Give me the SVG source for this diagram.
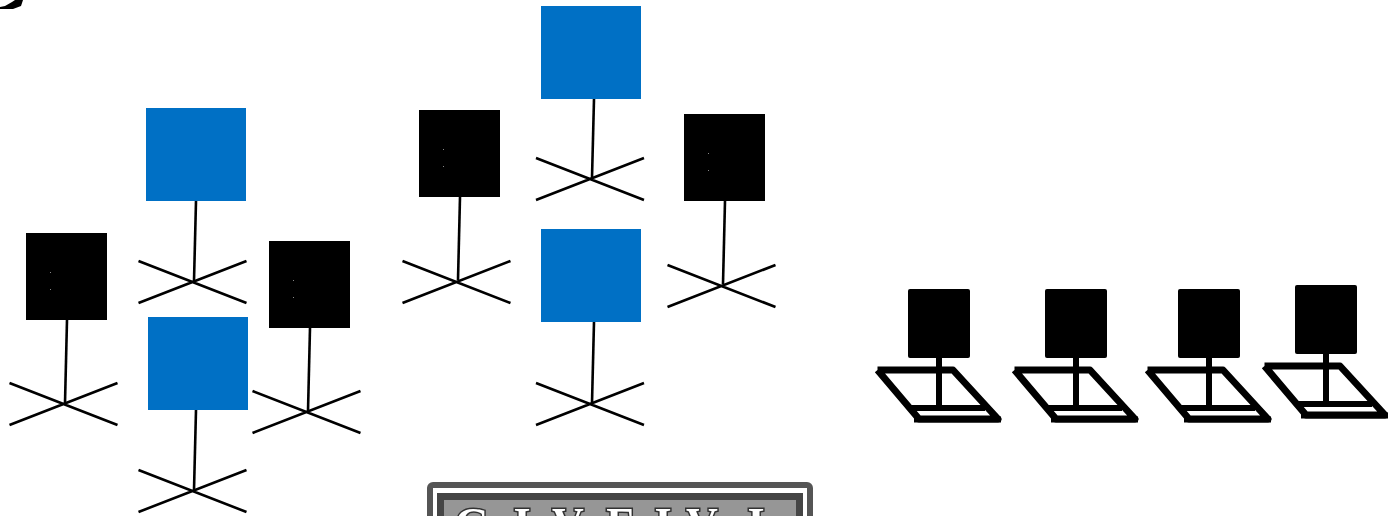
<svg xmlns="http://www.w3.org/2000/svg" width="1388" height="516" viewBox="0 0 1388 516">
<style>
.s{stroke:#000;stroke-width:2.6;fill:none}
.b{fill:#0070c5}
.k{fill:#000}
.l{stroke:#000;stroke-width:7;fill:none;stroke-linejoin:round}
.t{font-family:"Liberation Serif",serif;font-weight:bold;font-size:44px;fill:#fff;stroke:#333;stroke-width:3;paint-order:stroke;text-anchor:middle}
.dot{fill:#888}
</style>
<defs>
<filter id="soft" x="-2%" y="-10%" width="104%" height="120%"><feGaussianBlur stdDeviation="0.7"/></filter>
<g id="legs"><path class="s" d="M-54 -21L54 21M-54 21L54 -21"/></g>
<g id="lap"><rect class="k" x="33" y="0" width="62" height="69" rx="2"/><path class="l" d="M2.500 81H78L123 130H44L2.500 81"/><path class="l" d="M36 119H110" style="stroke-width:6"/><path class="l" d="M64 69V119" style="stroke-width:6"/><path class="l" d="M39 130.500H126" style="stroke-width:6"/></g>
<g id="dots"><rect class="dot" x="0" y="0" width="1" height="1"/><rect class="dot" x="0" y="17" width="1" height="1"/></g>
</defs>
<rect width="1388" height="516" fill="#fff"/>
<g id="corner"><path class="k" d="M0 7L5 6L12 2L15 0H23L21 6L13 9L0 9Z"/></g>
<g id="connectors">
<path class="s" d="M196 201L194 281"/><use href="#legs" x="192.500" y="282"/>
<path class="s" d="M67 320L65 403"/><use href="#legs" x="63.500" y="404"/>
<path class="s" d="M310 328L308 411"/><use href="#legs" x="306.500" y="412"/>
<path class="s" d="M196 410L194 490"/><use href="#legs" x="192.500" y="491"/>
<path class="s" d="M460 197L458 280"/><use href="#legs" x="456.500" y="282"/>
<path class="s" d="M594 99L592 178"/><use href="#legs" x="590" y="179"/>
<path class="s" d="M725 201L723 284"/><use href="#legs" x="721.500" y="286"/>
<path class="s" d="M594 322L592 403"/><use href="#legs" x="590" y="404"/>
</g>
<g id="n1"><rect class="b" x="146" y="108" width="100" height="93"/></g>
<g id="n2"><rect class="k" x="26" y="233" width="81" height="87"/><use href="#dots" x="50" y="272"/></g>
<g id="n3"><rect class="k" x="269" y="241" width="81" height="87"/><use href="#dots" x="293" y="280"/></g>
<g id="n4"><rect class="b" x="148" y="317" width="100" height="93"/></g>
<g id="n5"><rect class="k" x="419" y="110" width="81" height="87"/><use href="#dots" x="443" y="149"/></g>
<g id="n6"><rect class="b" x="541" y="6" width="100" height="93"/></g>
<g id="n7"><rect class="k" x="684" y="114" width="81" height="87"/><use href="#dots" x="708" y="153"/></g>
<g id="n8"><rect class="b" x="541" y="229" width="100" height="93"/></g>
<g id="l1"><use href="#lap" x="875" y="289"/></g>
<g id="l2"><use href="#lap" x="1012" y="289"/></g>
<g id="l3"><use href="#lap" x="1145" y="289"/></g>
<g id="l4"><use href="#lap" x="1262" y="285"/></g>
<g id="banner" filter="url(#soft)">
<rect x="430" y="485" width="380" height="50" rx="3" fill="#fff" stroke="#555" stroke-width="6"/>
<rect x="440.500" y="496.500" width="359" height="40" fill="#969696" stroke="#444" stroke-width="7"/>
<text class="t" x="472" y="538">G</text>
<text class="t" x="522" y="538">I</text>
<text class="t" x="568" y="538">V</text>
<text class="t" x="621" y="538">E</text>
<text class="t" x="663" y="538">I</text>
<text class="t" x="702" y="538">V</text>
<text class="t" x="756" y="538">I</text>
</g>
</svg>
